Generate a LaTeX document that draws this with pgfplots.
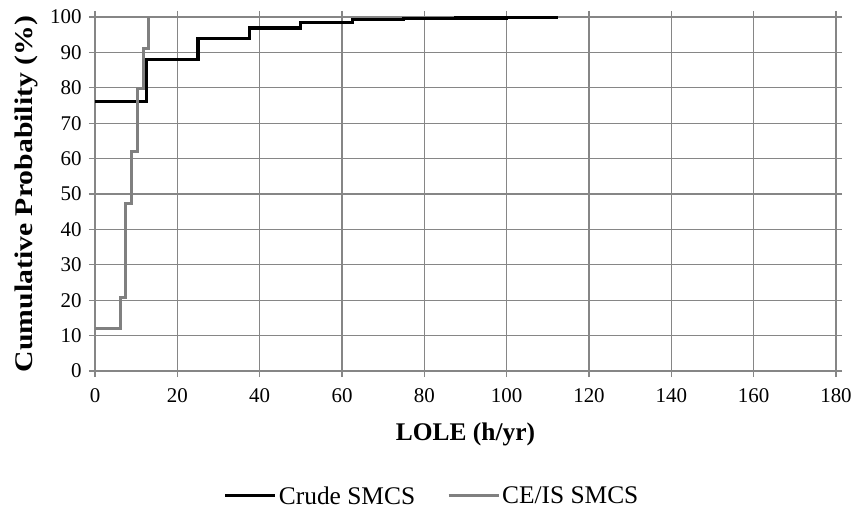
\documentclass[border=0pt]{standalone}
\usepackage{pgfplots}
\pgfplotsset{compat=1.18}
\usepackage{graphicx}
\usepackage{fontspec}
\setmainfont{Liberation Serif}

\definecolor{gridgray}{RGB}{134,134,134}
\definecolor{ceis}{RGB}{128,128,128}

\begin{document}
\begin{tikzpicture}[x=1bp,y=1bp]
\begin{axis}[
  scale only axis,
  width=741bp, height=354bp,
  xmin=0, xmax=180, ymin=0, ymax=100,
  xtick={0,20,...,180}, ytick={0,10,...,100},
  grid=major,
  major grid style={draw=gridgray, line width=1.3bp},
  axis line style={draw=gridgray, line width=1.3bp},
  tick align=outside, major tick length=6bp,
  tick style={draw=gridgray, line width=1.3bp},
  x tick label style={font=\fontsize{21}{24}\selectfont, yshift=-8bp},
  y tick label style={font=\fontsize{21}{24}\selectfont, xshift=-4bp},
  /pgf/number format/assume math mode=true,
  xlabel={\textbf{LOLE (h/yr)}},
  ylabel={\scalebox{1.17}[1]{\textbf{Cumulative Probability (\%)}}},
  label style={font=\fontsize{25.5}{29}\selectfont},
  xlabel style={at={(axis description cs:0.5,-0.195)}, anchor=base},
  ylabel style={at={(axis description cs:-0.093,0.5)}, anchor=center},
  legend columns=2,
  legend style={draw=none, fill=none, font=\fontsize{25.5}{29}\selectfont,
    at={(axis description cs:0.455,-0.353)}, anchor=center,
    /tikz/every even column/.append style={column sep=30bp}},
  legend image code/.code={\draw[#1, line width=3bp] (0bp,0bp) -- (50bp,0bp);},
]
\addplot[const plot, black, line width=3.2bp] coordinates {
  (0,76.1) (12.5,88.0) (25,94.0) (37.5,96.9) (50,98.5) (62.5,99.2)
  (75,99.5) (87.5,99.7) (100,99.85) (112.5,99.85)
};
\addlegendentry{Crude SMCS}
\addplot[const plot, ceis, line width=3bp] coordinates {
  (0,12.0) (6.1,20.8) (7.4,47.3) (8.9,62.0) (10.3,79.8) (11.7,91.2) (13.1,100)
};
\addlegendentry{CE/IS SMCS}
\end{axis}
\path ([shift={(-95bp,-141bp)}]current axis.south west) rectangle ([shift={(20bp,17bp)}]current axis.north east);
\end{tikzpicture}
\end{document}
